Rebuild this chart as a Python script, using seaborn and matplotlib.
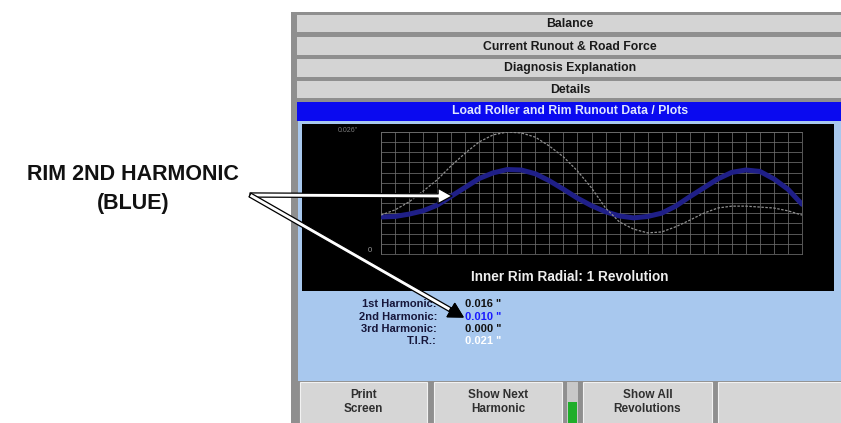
import numpy as np
import pandas as pd
import matplotlib
matplotlib.use("Agg")
import matplotlib.pyplot as plt
from matplotlib.patches import Rectangle, FancyArrowPatch
import seaborn as sns

# ---------------- data ----------------
angle_deg = [0, 12, 24, 36, 48, 60, 72, 84, 96, 108, 120, 132, 144, 156, 168,
             180, 192, 204, 216, 228, 240, 252, 264, 276, 288, 300, 312, 324,
             336, 348, 360]
rim_total = [0.0083, 0.0094, 0.0111, 0.0134, 0.0158, 0.0188, 0.0215, 0.0239,
             0.0254, 0.0260, 0.0258, 0.0249, 0.0230, 0.0207, 0.0177, 0.0141,
             0.0098, 0.0068, 0.0053, 0.0045, 0.0047, 0.0058, 0.0072, 0.0087,
             0.0098, 0.0102, 0.0102, 0.0100, 0.0098, 0.0092, 0.0083]
rim_2nd_harmonic = [0.0079, 0.0080, 0.0085, 0.0092, 0.0104, 0.0123, 0.0142,
                    0.0161, 0.0173, 0.0180, 0.0179, 0.0171, 0.0156, 0.0138,
                    0.0119, 0.0103, 0.0090, 0.0081, 0.0077, 0.0080, 0.0087,
                    0.0102, 0.0122, 0.0141, 0.0160, 0.0174, 0.0179, 0.0176,
                    0.0160, 0.0138, 0.0106]
y_max = 0.026
tabs = ["Balance", "Current Runout & Road Force", "Diagnosis Explanation", "Details"]
header = "Load Roller and Rim Runout Data / Plots"
caption = "Inner Rim Radial: 1 Revolution"
harm_labels = ["1st Harmonic:", "2nd Harmonic:", "3rd Harmonic:", "T.I.R.:"]
harm_values = ['0.016 "', '0.010 "', '0.000 "', '0.021 "']
buttons = ["Print\nScreen", "Show Next\nHarmonic", "Show All\nRevolutions", ""]

df = pd.DataFrame({"deg": angle_deg, "total": rim_total, "h2": rim_2nd_harmonic})

# ---------------- figure ----------------
W, H = 841, 423
sns.set_theme(style="dark")
plt.rcParams["font.family"] = ["Liberation Sans", "DejaVu Sans"]
fig = plt.figure(figsize=(W / 100, H / 100), dpi=100, facecolor="white")

bg = fig.add_axes([0, 0, 1, 1])
bg.set_xlim(0, W)
bg.set_ylim(H, 0)
bg.axis("off")

def rect(x0, y0, x1, y1, fc, ec="none", lw=0, z=1):
    bg.add_patch(Rectangle((x0, y0), x1 - x0, y1 - y0, facecolor=fc,
                           edgecolor=ec, linewidth=lw, zorder=z))

# panel frame
rect(291, 12, 841, 423, "#8f8f8f")
# tabs
tab_y = [(15, 32), (37, 55), (59, 77), (81, 98)]
for (y0, y1), t in zip(tab_y, tabs):
    rect(297, y0, 841, y1, "#d4d4d4", z=2)
    bg.text(570, (y0 + y1) / 2 + 0.5, t, ha="center", va="center",
            fontsize=8.8, fontweight="bold", color="#1a1a1a", zorder=3)
# blue header
rect(297, 102, 841, 121, "#0a0af0", z=2)
bg.text(570, 111.5, header, ha="center", va="center", fontsize=8.8,
        fontweight="bold", color="#dfe6ff", zorder=3)
# light blue body
rect(298, 121, 841, 381, "#a8c8ee", z=2)
# black plot box
rect(302, 124, 834, 291, "black", z=3)
bg.text(348, 131, '0.026"', ha="center", va="center", fontsize=5,
        color="#7a7a7a", zorder=4)
bg.text(370, 251, "0", ha="center", va="center", fontsize=5.5,
        color="#9a9a9a", zorder=4)
bg.text(570, 277, caption, ha="center", va="center", fontsize=9.8,
        fontweight="bold", color="#eeeeee", zorder=4)

# harmonic readout
row_y = [304, 316.5, 329, 341.5]
val_colors = ["#111111", "#1a1aff", "#111111", "#ffffff"]
for yy, lab, val, c in zip(row_y, harm_labels, harm_values, val_colors):
    bg.text(437, yy, lab, ha="right", va="center", fontsize=8,
            fontweight="bold", color="#16163a", zorder=4)
    bg.text(465, yy, val, ha="left", va="center", fontsize=8,
            fontweight="bold", color=c, zorder=4)

# buttons
btn_x = [(300, 427), (434, 562), (583, 712), (718, 841)]
for (x0, x1), b in zip(btn_x, buttons):
    rect(x0, 382, x1, 424, "#d6d6d6", ec="#f2f2f2", lw=0.8, z=4)
    if b:
        bg.text((x0 + x1) / 2, 402, b, ha="center", va="center",
                fontsize=8.5, fontweight="bold", color="#2f2f2f",
                linespacing=1.3, zorder=5)
# small indicator
rect(567, 382, 578, 424, "#c8c8c8", z=4)
rect(568, 402, 577, 424, "#1fae2a", z=5)

# left annotation
bg.text(133, 175, "RIM 2ND HARMONIC", ha="center", va="center",
        fontsize=15.5, fontweight="bold", color="#111111")
bg.text(133, 203, "(BLUE)", ha="center", va="center",
        fontsize=15.5, fontweight="bold", color="#111111")

# ---------------- plot ----------------
gx0, gx1, gy0, gy1 = 381, 802, 132, 254
ax = fig.add_axes([gx0 / W, (H - gy1) / H, (gx1 - gx0) / W, (gy1 - gy0) / H])
ax.set_facecolor("black")
sns.lineplot(data=df, x="deg", y="h2", ax=ax, color="#1f1f88", lw=3.6,
             zorder=3)
sns.lineplot(data=df, x="deg", y="total", ax=ax, color="#8f8f8f", lw=0.9,
             linestyle=(0, (2.0, 1.2)), zorder=4)
ax.set_xlim(0, 360)
ax.set_ylim(0, y_max)
ax.set_xticks(np.arange(0, 361, 12))
ax.set_yticks(np.linspace(0, y_max, 13))
ax.grid(True, color="#6e6e6e", lw=0.55)
ax.tick_params(length=0, labelbottom=False, labelleft=False)
ax.set_xlabel("")
ax.set_ylabel("")
for s in ax.spines.values():
    s.set_visible(True)
    s.set_color("#6e6e6e")
    s.set_linewidth(0.55)

# ---------------- arrows overlay ----------------
ov = fig.add_axes([0, 0, 1, 1])
ov.set_xlim(0, W)
ov.set_ylim(H, 0)
ov.axis("off")
ov.patch.set_alpha(0)

style = "simple,head_length=1.0,head_width=1.1,tail_width=0.3"
a1 = FancyArrowPatch((250, 195), (452, 196), arrowstyle=style,
                     mutation_scale=10, fc="white", ec="black", lw=0.9,
                     shrinkA=0, shrinkB=0, zorder=10)
ov.add_patch(a1)
a2 = FancyArrowPatch((250, 195), (463, 317), arrowstyle=style,
                     mutation_scale=10, fc="white", ec="black", lw=0.9,
                     shrinkA=0, shrinkB=0, zorder=10)
ov.add_patch(a2)
a3 = FancyArrowPatch((450, 309.5), (463, 317), arrowstyle=style,
                     mutation_scale=10, fc="black", ec="black", lw=0.9,
                     shrinkA=0, shrinkB=0, zorder=11)
ov.add_patch(a3)

fig.savefig("out.png", dpi=100, facecolor="white")
